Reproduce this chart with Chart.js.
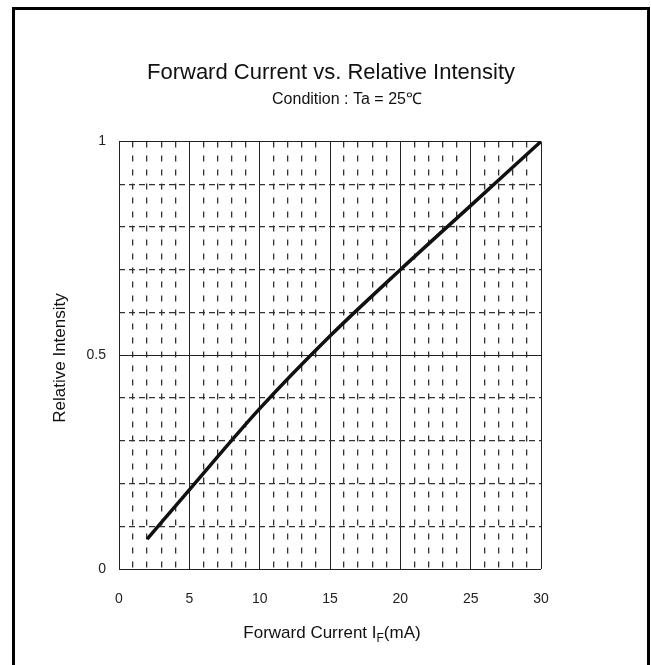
<!DOCTYPE html>
<html>
<head>
<meta charset="utf-8">
<script src="https://cdn.jsdelivr.net/npm/chart.js@4/dist/chart.umd.min.js"></script>
<style>
  body { margin: 0; background: #fff; }
  .quadro { position: relative; width: 651px; height: 665px; overflow: hidden; }
  .moldura { position: absolute; left: 12px; top: 7px; width: 638px; height: 700px; border: 3px solid #000; box-sizing: border-box; }
  canvas { position: absolute; left: 0; top: 0; }
</style>
</head>
<body>
<div class="quadro">
  <div class="moldura"></div>
  <canvas id="chart" width="651" height="665"></canvas>
</div>
<script>
// dados
let correnteMa = [2, 5, 10, 15, 20, 25, 30]
let intensidade = [0.07, 0.185, 0.375, 0.545, 0.70, 0.85, 1.0]

let rotulosX = [0, 5, 10, 15, 20, 25, 30]
let rotulosY = [0, 0.5, 1]

let titulo = 'Forward Current vs. Relative Intensity'
let subtitulo = 'Condition : Ta = 25\u2103'
let tituloY = 'Relative Intensity'

let pontos = correnteMa.map((x, i) => ({ x: x, y: intensidade[i] }))

let fonteTicks = '"Liberation Sans Narrow", "Liberation Sans", Arial, sans-serif'
let fonteTexto = '"Liberation Sans", Arial, sans-serif'

// desenha titulos e rotulos dos eixos (o do eixo X tem subscrito)
const textos = {
  id: 'textos',
  afterDraw(chart) {
    const ctx = chart.ctx
    ctx.save()
    ctx.fillStyle = '#111'
    ctx.textAlign = 'center'
    ctx.textBaseline = 'middle'

    ctx.font = '22px ' + fonteTexto
    ctx.fillText(titulo, 331, 73)

    ctx.font = '16px ' + fonteTexto
    ctx.fillText(subtitulo, 347, 100)

    // eixo Y
    ctx.save()
    ctx.translate(60, 358)
    ctx.rotate(-Math.PI / 2)
    ctx.font = '17px ' + fonteTexto
    ctx.fillText(tituloY, 0, 0)
    ctx.restore()

    // eixo X: "Forward Current I" + "F" + "(mA)"
    ctx.textAlign = 'left'
    ctx.font = '17px ' + fonteTexto
    let p1 = 'Forward Current I', p3 = '(mA)'
    let w1 = ctx.measureText(p1).width
    let w3 = ctx.measureText(p3).width
    ctx.font = '12px ' + fonteTexto
    let w2 = ctx.measureText('F').width
    let x0 = 332 - (w1 + w2 + w3) / 2
    ctx.font = '17px ' + fonteTexto
    ctx.fillText(p1, x0, 633)
    ctx.font = '12px ' + fonteTexto
    ctx.fillText('F', x0 + w1, 639)
    ctx.font = '17px ' + fonteTexto
    ctx.fillText(p3, x0 + w1 + w2, 633)
    ctx.restore()
  }
}

function ehMultiplo(v, passo) {
  return Math.abs(v / passo - Math.round(v / passo)) < 1e-6
}

let grafico = new Chart('chart', {
  type: 'line',
  data: {
    datasets: [{
      data: pontos,
      borderColor: '#111',
      borderWidth: 3.5,
      pointRadius: 0,
      tension: 0.3,
      cubicInterpolationMode: 'monotone',
      fill: false
    }]
  },
  options: {
    responsive: false,
    animation: false,
    layout: { padding: { left: 0, right: 110, top: 141.5, bottom: 0 } },
    plugins: {
      legend: { display: false },
      tooltip: { enabled: false }
    },
    scales: {
      x: {
        type: 'linear',
        min: 0,
        max: 30,
        afterFit: s => { s.height = 96 },
        ticks: {
          stepSize: 1,
          autoSkip: false,
          maxRotation: 0,
          padding: 22,
          color: '#222',
          font: { family: fonteTicks, size: 14 },
          callback: v => rotulosX.includes(Math.round(v)) && ehMultiplo(v, 1) ? String(Math.round(v)) : ''
        },
        grid: {
          drawTicks: false,
          lineWidth: c => ehMultiplo(c.tick.value, 5) ? 1 : 1.3,
          color: c => ehMultiplo(c.tick.value, 5) ? '#222' : '#333'
        },
        border: {
          display: false,
          dash: c => (c.tick && ehMultiplo(c.tick.value, 5)) ? [] : [6, 8]
        }
      },
      y: {
        type: 'linear',
        min: 0,
        max: 1,
        afterFit: s => { s.width = 119 },
        ticks: {
          stepSize: 0.1,
          autoSkip: false,
          padding: 13,
          color: '#222',
          font: { family: fonteTicks, size: 14 },
          callback: v => {
            let r = Math.round(v * 10) / 10
            return rotulosY.includes(r) ? String(r) : ''
          }
        },
        grid: {
          drawTicks: false,
          lineWidth: c => ehMultiplo(c.tick.value, 0.5) ? 1 : 1.3,
          color: c => ehMultiplo(c.tick.value, 0.5) ? '#222' : '#333'
        },
        border: {
          display: false,
          dash: c => (c.tick && ehMultiplo(c.tick.value, 0.5)) ? [] : [6, 4]
        }
      }
    }
  },
  plugins: [textos]
})
</script>
</body>
</html>
